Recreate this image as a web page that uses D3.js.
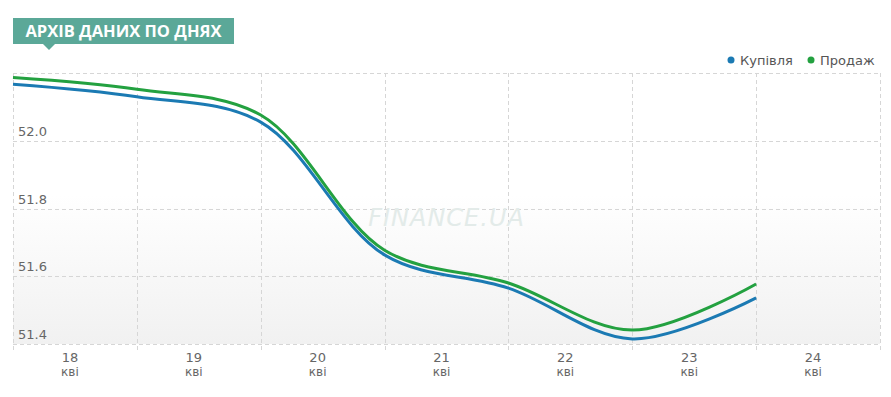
<!DOCTYPE html>
<html>
<head>
<meta charset="utf-8">
<script src="https://cdn.jsdelivr.net/npm/d3@7"></script>
<style>
  body { margin: 0; background: #fff; font-family: "DejaVu Sans", Verdana, sans-serif; }
</style>
</head>
<body>
<svg id="chart"></svg>
<script>
// Data
const days = ['18', '19', '20', '21', '22', '23', '24'];
const month = 'кві';
const buyValues = [52.167, 52.13, 52.055, 51.663, 51.565, 51.415, 51.536];
const sellValues = [52.187, 52.152, 52.076, 51.677, 51.58, 51.441, 51.577];
const yTicks = [51.4, 51.6, 51.8, 52.0, 52.2];
const seriesNames = ['Купівля', 'Продаж'];
const seriesColors = ['#1b7ab3', '#23a140'];

const W = 891, H = 397;
const margin = {top: 73, right: 11, bottom: 53, left: 13};
const width = W - margin.left - margin.right;
const height = H - margin.top - margin.bottom;

const svg = d3.select('#chart')
    .attr('width', W)
    .attr('height', H);

// Background gradient
const defs = svg.append('defs');
const grad = defs.append('linearGradient')
    .attr('id', 'bg')
    .attr('x1', 0).attr('y1', 0).attr('x2', 0).attr('y2', 1);
grad.append('stop').attr('offset', '0%').attr('stop-color', '#ffffff');
grad.append('stop').attr('offset', '45%').attr('stop-color', '#ffffff');
grad.append('stop').attr('offset', '100%').attr('stop-color', '#f1f1f1');

const g = svg.append('g')
    .attr('transform', `translate(${margin.left},${margin.top})`);

g.append('rect')
    .attr('width', width)
    .attr('height', height)
    .attr('fill', 'url(#bg)');

// Scales
const x = d3.scaleLinear()
    .domain([0, days.length])
    .range([0, width]);

const y = d3.scaleLinear()
    .domain([51.4, 52.2])
    .range([height, 0]);

// Horizontal grid
g.selectAll('.hgrid')
    .data(yTicks)
    .enter()
    .append('line')
    .attr('x1', 0)
    .attr('x2', width)
    .attr('y1', d => Math.round(y(d)) + 0.5)
    .attr('y2', d => Math.round(y(d)) + 0.5)
    .attr('stroke', '#d6d6d6')
    .attr('stroke-dasharray', '4,3');

// Vertical grid
g.selectAll('.vgrid')
    .data(d3.range(days.length + 1))
    .enter()
    .append('line')
    .attr('x1', d => Math.round(x(d)) + 0.5)
    .attr('x2', d => Math.round(x(d)) + 0.5)
    .attr('y1', 0)
    .attr('y2', height + 7)
    .attr('stroke', '#d6d6d6')
    .attr('stroke-dasharray', '4,3');

// Y labels (inside plot)
g.selectAll('.ylabel')
    .data(yTicks.filter(d => d < 52.2))
    .enter()
    .append('text')
    .attr('x', 5)
    .attr('y', d => y(d) - 5)
    .attr('fill', '#666')
    .style('font-size', '13px')
    .text(d => d.toFixed(1));

// X labels
const xl = g.selectAll('.xlabel')
    .data(days)
    .enter()
    .append('text')
    .attr('text-anchor', 'middle')
    .attr('fill', '#666')
    .style('font-size', '13px');
xl.append('tspan')
    .attr('x', (d, i) => x(i + 0.5) - 5)
    .attr('y', height + 18)
    .text(d => d);
xl.append('tspan')
    .attr('x', (d, i) => x(i + 0.5) - 5)
    .attr('y', height + 32)
    .style('font-size', '12px')
    .text(month);

// Watermark
g.append('text')
    .attr('x', x(3.5))
    .attr('y', 153)
    .attr('text-anchor', 'middle')
    .attr('fill', '#e3ebe9')
    .style('font-size', '24px')
    .style('font-style', 'italic')
    .style('letter-spacing', '1px')
    .text('FINANCE.UA');

// Lines
const line = d3.line()
    .x((d, i) => x(i))
    .y(d => y(d))
    .curve(d3.curveCatmullRom.alpha(0.5));

[buyValues, sellValues].forEach((vals, k) => {
    g.append('path')
        .datum(vals)
        .attr('fill', 'none')
        .attr('stroke', seriesColors[k])
        .attr('stroke-width', 3)
        .attr('d', line);
});

// Legend
const legendX = [731, 811];
seriesNames.forEach((name, k) => {
    svg.append('circle')
        .attr('cx', legendX[k])
        .attr('cy', 60)
        .attr('r', 3.5)
        .attr('fill', seriesColors[k]);
    svg.append('text')
        .attr('x', legendX[k] + 9)
        .attr('y', 65)
        .attr('fill', '#555')
        .style('font-size', '13px')
        .text(name);
});

// Title badge
svg.append('rect')
    .attr('x', 13)
    .attr('y', 18)
    .attr('width', 221)
    .attr('height', 26)
    .attr('fill', '#5ba898');
svg.append('path')
    .attr('d', 'M43,44 L49,50 L55,44 Z')
    .attr('fill', '#5ba898');
svg.append('text')
    .attr('x', 123.5)
    .attr('y', 37)
    .attr('text-anchor', 'middle')
    .attr('fill', '#fff')
    .style('font-size', '16.5px')
    .style('font-weight', 'bold')
    .style('font-family', '"Open Sans", sans-serif')
    .text('АРХІВ ДАНИХ ПО ДНЯХ');
</script>
</body>
</html>
